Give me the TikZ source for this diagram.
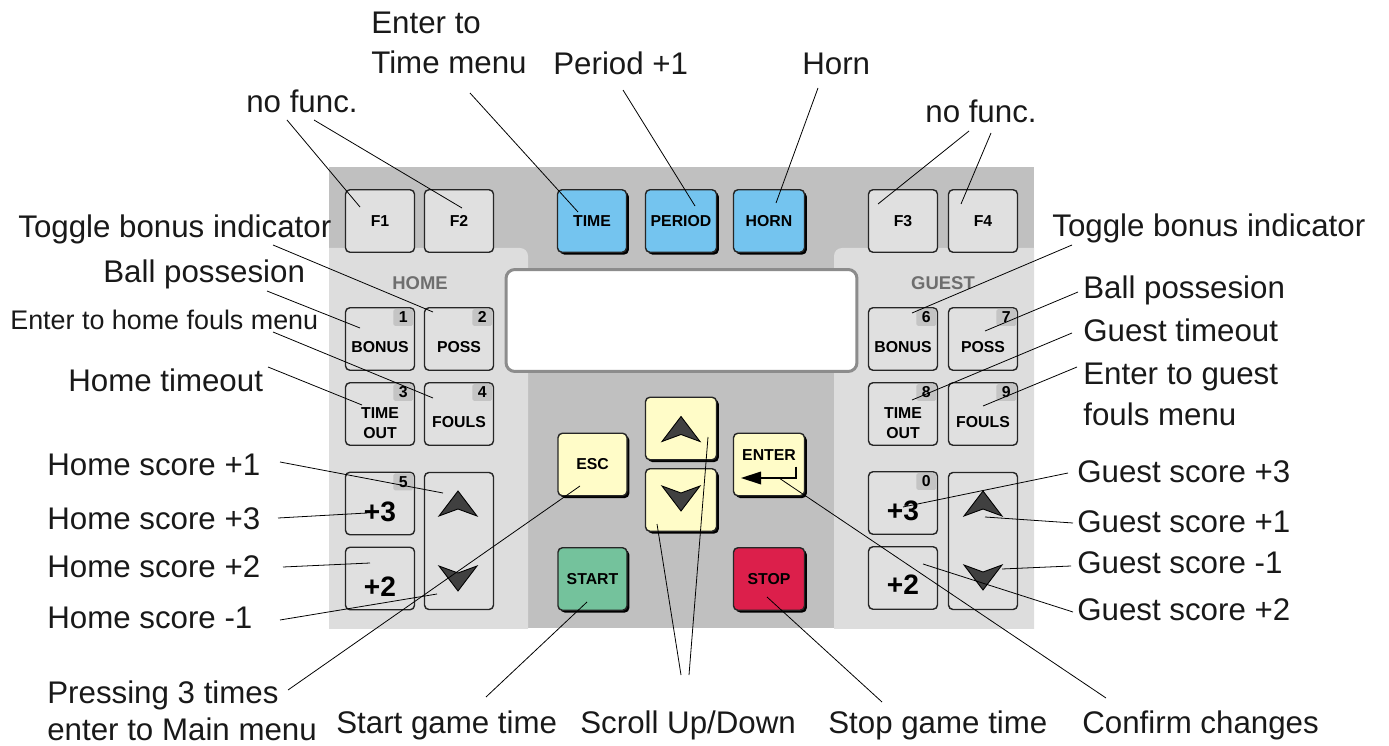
\documentclass[tikz,border=0pt]{standalone}
\usepackage{fontspec}
\setmainfont{Liberation Sans}
\usepackage{xcolor}
\usetikzlibrary{shadows, positioning}

\definecolor{panelgray}{HTML}{C0C0C0}
\definecolor{sidegray}{HTML}{DDDDDD}
\definecolor{keygray}{HTML}{E0E0E0}
\definecolor{badgegray}{HTML}{C4C4C4}
\definecolor{keyblue}{HTML}{74C4EF}
\definecolor{keyyellow}{HTML}{FFFCC8}
\definecolor{keygreen}{HTML}{74C29C}
\definecolor{keyred}{HTML}{DC1F4B}
\definecolor{teamgray}{HTML}{6E6E6E}
\definecolor{lcdframe}{HTML}{8C8C8C}
\definecolor{arrowgray}{HTML}{404040}

\tikzset{
  uptri/.pic={\path[fill=arrowgray, draw=black, line width=0.5pt] (0,-12) -- (19,13) -- (0,6) -- (-19,13) -- cycle;},
  downtri/.pic={\path[fill=arrowgray, draw=black, line width=0.5pt] (0,12) -- (19,-13) -- (0,-6) -- (-19,-13) -- cycle;}
}

\begin{document}
\begin{tikzpicture}[x=0.02cm, y=-0.02cm]
    \tikzstyle{key} = [rectangle, draw=black!85, line width=0.8pt, fill=keygray, rounded corners=2.5pt, minimum width=1.38cm, minimum height=1.25cm, inner sep=0pt, font=\fontsize{9}{10}\selectfont\bfseries, align=center]
    \tikzstyle{hotkey} = [key, drop shadow={shadow xshift=1.3pt, shadow yshift=-1.3pt, fill=black, opacity=1}]
    \tikzstyle{wide} = [minimum width=1.42cm]
    \tikzstyle{tall} = [minimum height=2.74cm]
    \tikzstyle{badge} = [rectangle, fill=badgegray, rounded corners=1pt, minimum width=0.4cm, minimum height=0.34cm, inner sep=0pt, anchor=north east, font=\fontsize{9}{10}\selectfont\bfseries]
    \tikzstyle{keytxt} = [inner sep=0pt, align=center, font=\fontsize{9}{11.3}\selectfont\bfseries]
    \tikzstyle{bigtxt} = [inner sep=0pt, font=\fontsize{16}{18}\selectfont\bfseries]
    \tikzstyle{team} = [inner sep=0pt, text=teamgray, font=\fontsize{10.5}{12}\selectfont\bfseries]
    \tikzstyle{lcd} = [rectangle, draw=lcdframe, line width=1.7pt, fill=white, rounded corners=5pt, minimum width=7.02cm, minimum height=2.04cm]
    \tikzstyle{note} = [inner sep=0pt, anchor=base west, align=left, text=black!90, font=\fontsize{17.8}{23.2}\selectfont]
    \tikzstyle{leader} = [draw=black, line width=0.45pt]

    \useasboundingbox (0,0) rectangle (1389,746);

    % console body
    \fill[panelgray] (329,167) rectangle (1034,628);
    \begin{scope}
        \clip (329,167) rectangle (1034,628);
        \fill[sidegray, rounded corners=0.16cm] (300,248) rectangle (528,660);
        \fill[sidegray, rounded corners=0.16cm] (834,248) rectangle (1060,660);
    \end{scope}
    \node [lcd] (lcd) at (681.5,320.5) {};
    \node [team] (home) at (420,283) {HOME};
    \node [team] (guest) at (943,283) {GUEST};

    % top row
    \node [key] (f1) at (380,221) {F1};
    \node [key] (f2) at (459,221) {F2};
    \node [hotkey, fill=keyblue] (time) at (592,221) {TIME};
    \node [hotkey, wide, fill=keyblue] (period) at (681,221) {PERIOD};
    \node [hotkey, wide, fill=keyblue] (horn) at (769,221) {HORN};
    \node [key] (f3) at (903,221) {F3};
    \node [key] (f4) at (983,221) {F4};

    % home keys
    \node [key] (hbonus) at (380,339) {};
    \node [badge] (hbonusN) at ([shift={(-1.5,1.5)}]hbonus.north east) {1};
    \node [keytxt] (hbonusT) at ([yshift=-4.5pt]hbonus.center) {BONUS};
    \node [key] (hposs) at (459,339) {};
    \node [badge] (hpossN) at ([shift={(-1.5,1.5)}]hposs.north east) {2};
    \node [keytxt] (hpossT) at ([yshift=-4.5pt]hposs.center) {POSS};
    \node [key] (hout) at (380,414) {};
    \node [badge] (houtN) at ([shift={(-1.5,1.5)}]hout.north east) {3};
    \node [keytxt] (houtT) at ([yshift=-5pt]hout.center) {TIME\\OUT};
    \node [key] (hfouls) at (459,414) {};
    \node [badge] (hfoulsN) at ([shift={(-1.5,1.5)}]hfouls.north east) {4};
    \node [keytxt] (hfoulsT) at ([yshift=-4.8pt]hfouls.center) {FOULS};
    \node [key] (hthree) at (380,503.5) {};
    \node [badge] (hthreeN) at ([shift={(-1.5,1.5)}]hthree.north east) {5};
    \node [bigtxt] (hthreeT) at ([yshift=-4.6pt]hthree.center) {+3};
    \node [key] (htwo) at (380,578.5) {};
    \node [bigtxt] (htwoT) at ([yshift=-4.6pt]htwo.center) {+2};
    \node [key, tall] (harrows) at (459,541) {};
    \pic at ([shift={(-1,-38)}]harrows.center) {uptri};
    \pic at ([shift={(-1,38)}]harrows.center) {downtri};

    % centre keys
    \node [hotkey, fill=keyyellow] (esc) at (592.5,464.5) {ESC};
    \node [hotkey, fill=keygreen] (start) at (592.5,579) {START};
    \node [hotkey, wide, fill=keyyellow] (up) at (681,428.5) {};
    \pic at (up.center) {uptri};
    \node [hotkey, wide, fill=keyyellow] (down) at (681,500) {};
    \pic at ([shift={(0,-1)}]down.center) {downtri};
    \node [hotkey, wide, fill=keyyellow] (enter) at (769,464.5) {};
    \node [keytxt] (enterT) at ([yshift=5.4pt]enter.center) {ENTER};
    \draw [line width=1.4pt] ([shift={(27,2)}]enter.center) -- ([shift={(27,13.5)}]enter.center) -- ([shift={(-12,13.5)}]enter.center);
    \fill ([shift={(-28,13.5)}]enter.center) -- ([shift={(-8,7)}]enter.center) -- ([shift={(-8,20)}]enter.center) -- cycle;
    \node [hotkey, wide, fill=keyred] (stop) at (769,579) {STOP};

    % guest keys
    \node [key] (gbonus) at (903,339) {};
    \node [badge] (gbonusN) at ([shift={(-1.5,1.5)}]gbonus.north east) {6};
    \node [keytxt] (gbonusT) at ([yshift=-4.5pt]gbonus.center) {BONUS};
    \node [key] (gposs) at (983,339) {};
    \node [badge] (gpossN) at ([shift={(-1.5,1.5)}]gposs.north east) {7};
    \node [keytxt] (gpossT) at ([yshift=-4.5pt]gposs.center) {POSS};
    \node [key] (gout) at (903,414) {};
    \node [badge] (goutN) at ([shift={(-1.5,1.5)}]gout.north east) {8};
    \node [keytxt] (goutT) at ([yshift=-5pt]gout.center) {TIME\\OUT};
    \node [key] (gfouls) at (983,414) {};
    \node [badge] (gfoulsN) at ([shift={(-1.5,1.5)}]gfouls.north east) {9};
    \node [keytxt] (gfoulsT) at ([yshift=-4.8pt]gfouls.center) {FOULS};
    \node [key] (gthree) at (903,503) {};
    \node [badge] (gthreeN) at ([shift={(-1.5,1.5)}]gthree.north east) {0};
    \node [bigtxt] (gthreeT) at ([yshift=-4.2pt]gthree.center) {+3};
    \node [key] (gtwo) at (903,578) {};
    \node [bigtxt] (gtwoT) at ([yshift=-3.6pt]gtwo.center) {+2};
    \node [key, tall] (garrows) at (983,541) {};
    \pic at ([shift={(0,-38)}]garrows.center) {uptri};
    \pic at ([shift={(0,37)}]garrows.center) {downtri};

    % descriptions (two-line ones sit on their last line)
    \node [note] (nTime) at (371,74) {Enter to\\Time menu};
    \node [note] (nPeriod) at (553,75) {Period +1};
    \node [note] (nHorn) at (802,75) {Horn};
    \node [note] (nFuncL) at (246,113) {no func.};
    \node [note] (nFuncR) at (925,123) {no func.};
    \node [note] (nBonusL) at (18,238) {Toggle bonus indicator};
    \node [note] (nBonusR) at (1052,237) {Toggle bonus indicator};
    \node [note] (nPossL) at (103,283) {Ball possesion};
    \node [note] (nPossR) at (1083,299) {Ball possesion};
    \node [note, font=\fontsize{15.3}{18}\selectfont] (nFoulsL) at (10,330) {Enter to home fouls menu};
    \node [note] (nOutL) at (68,392) {Home timeout};
    \node [note] (nOutR) at (1083,342) {Guest timeout};
    \node [note] (nFoulsR) at (1083,425) {Enter to guest\\fouls menu};
    \node [note] (nHomeA) at (47,475) {Home score +1};
    \node [note] (nHomeB) at (47,529) {Home score +3};
    \node [note] (nHomeC) at (47,577) {Home score +2};
    \node [note] (nHomeD) at (47,628) {Home score -1};
    \node [note, font=\fontsize{17.8}{21}\selectfont] (nEsc) at (47,740) {Pressing 3 times\\enter to Main menu};
    \node [note] (nGuestA) at (1077,482) {Guest score +3};
    \node [note] (nGuestB) at (1077,532) {Guest score +1};
    \node [note] (nGuestC) at (1077,573) {Guest score -1};
    \node [note] (nGuestD) at (1077,620) {Guest score +2};
    \node [note] (nStart) at (336,733) {Start game time};
    \node [note] (nScroll) at (580,733) {Scroll Up/Down};
    \node [note] (nStop) at (828,733) {Stop game time};
    \node [note] (nConfirm) at (1082,733) {Confirm changes};

    % free ends of the leader lines, next to the texts
    \coordinate (tF1) at (287,120);
    \coordinate (tF2) at (314,120);
    \coordinate (tTime) at (470,93);
    \coordinate (tPeriod) at (623,90);
    \coordinate (tHorn) at (818,88);
    \coordinate (tF3) at (969,131);
    \coordinate (tF4) at (991,133);
    \coordinate (tBonusL) at (273,245);
    \coordinate (tPossL) at (267,291);
    \coordinate (tFoulsL) at (273,332);
    \coordinate (tOutL) at (268,367);
    \coordinate (tHomeA) at (280,462);
    \coordinate (tHomeB) at (278,518);
    \coordinate (tHomeC) at (283,567);
    \coordinate (tHomeD) at (280,620);
    \coordinate (tEsc) at (288,690);
    \coordinate (tStart) at (486,697);
    \coordinate (tUp) at (689,675);
    \coordinate (tDown) at (681,675);
    \coordinate (tStop) at (882,702);
    \coordinate (tEnter) at (1106,698);
    \coordinate (tBonusR) at (1072,245);
    \coordinate (tPossR) at (1078,292);
    \coordinate (tOutR) at (1072,333);
    \coordinate (tFoulsR) at (1077,367);
    \coordinate (tGuestA) at (1068,473);
    \coordinate (tGuestB) at (1073,523);
    \coordinate (tGuestC) at (1071,566);
    \coordinate (tGuestD) at (1073,612);

    % leader lines
    \draw [leader] (tF1) -- ([shift={(-20,-14)}]f1.center);
    \draw [leader] (tF2) -- ([shift={(3,-13)}]f2.center);
    \draw [leader] (tTime) -- ([shift={(-14,-9)}]time.center);
    \draw [leader] (tPeriod) -- ([shift={(14,-15)}]period.center);
    \draw [leader] (tHorn) -- ([shift={(7,-18)}]horn.center);
    \draw [leader] (tF3) -- ([shift={(-25,-17)}]f3.center);
    \draw [leader] (tF4) -- ([shift={(-22,-17)}]f4.center);
    \draw [leader] (tBonusL) -- ([shift={(-26,-27)}]hposs.center);
    \draw [leader] (tPossL) -- ([shift={(-20,-11)}]hbonus.center);
    \draw [leader] (tFoulsL) -- ([shift={(-26,-16)}]hfouls.center);
    \draw [leader] (tOutL) -- ([shift={(-18,-9)}]hout.center);
    \draw [leader] (tHomeA) -- ([shift={(-16,-48)}]harrows.center);
    \draw [leader] (tHomeB) -- ([shift={(-13,9.5)}]hthree.center);
    \draw [leader] (tHomeC) -- ([shift={(-10,-15.5)}]htwo.center);
    \draw [leader] (tHomeD) -- ([shift={(-22,53)}]harrows.center);
    \draw [leader] (tEsc) -- ([shift={(-12.5,21.5)}]esc.center);
    \draw [leader] (tStart) -- ([shift={(-5.5,23)}]start.center);
    \draw [leader] (tUp) -- ([shift={(27,8.5)}]up.center);
    \draw [leader] (tDown) -- ([shift={(-24,24)}]down.center);
    \draw [leader] (tStop) -- ([shift={(-2,18)}]stop.center);
    \draw [leader] (tEnter) -- ([shift={(10,13.5)}]enter.center);
    \draw [leader] (tBonusR) -- ([shift={(9,-26)}]gbonus.center);
    \draw [leader] (tPossR) -- ([shift={(2,-8)}]gposs.center);
    \draw [leader] (tOutR) -- ([shift={(9,-14)}]gout.center);
    \draw [leader] (tFoulsR) -- ([shift={(0,-8)}]gfouls.center);
    \draw [leader] (tGuestA) -- ([shift={(0,4)}]gthree.center);
    \draw [leader] (tGuestB) -- ([shift={(2,-24)}]garrows.center);
    \draw [leader] (tGuestC) -- ([shift={(19,28)}]garrows.center);
    \draw [leader] (tGuestD) -- ([shift={(20,-14)}]gtwo.center);
\end{tikzpicture}
\end{document}
